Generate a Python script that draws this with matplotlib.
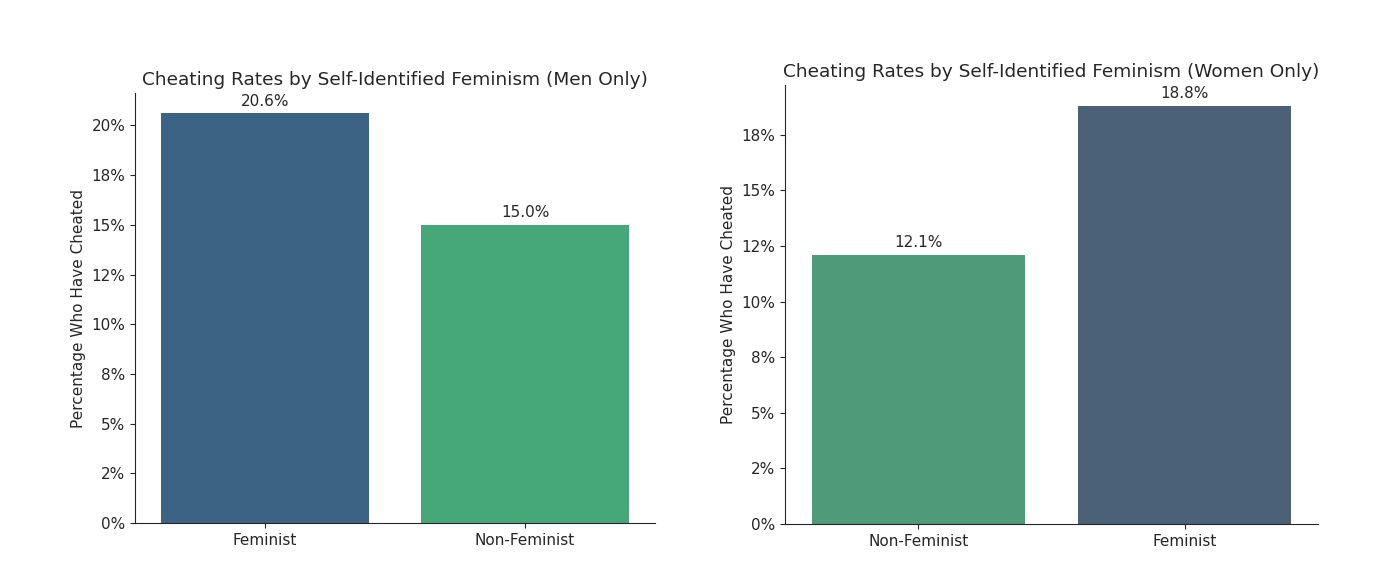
import numpy as np
import matplotlib
matplotlib.use('Agg')
import matplotlib.pyplot as plt
from matplotlib.ticker import MultipleLocator, FuncFormatter

# men
men_groups = ['Feminist', 'Non-Feminist']
men_rates = [20.6, 15.0]
men_colors = ['#3c6383', '#46a778']

# women
women_groups = ['Non-Feminist', 'Feminist']
women_rates = [12.1, 18.8]
women_colors = ['#4f9a78', '#4b6178']

dark = '#262626'
plt.rcParams['text.color'] = dark
plt.rcParams['axes.labelcolor'] = dark
plt.rcParams['xtick.color'] = dark
plt.rcParams['ytick.color'] = dark
plt.rcParams['axes.edgecolor'] = dark

fig = plt.figure(figsize=(13.74, 5.86), dpi=100)
ax1 = fig.add_axes([0.0983, 0.1075, 0.3785, 0.7338])
ax2 = fig.add_axes([0.5713, 0.1058, 0.3879, 0.7491])

def pct(v, pos):
    return '{:.0f}%'.format(v)

def draw(ax, groups, rates, colors, title):
    x = np.arange(len(groups))
    bars = ax.bar(x, rates, width=0.8, color=colors)
    for b, r in zip(bars, rates):
        ax.annotate('{:.1f}%'.format(r), (b.get_x() + b.get_width() / 2, r),
                    xytext=(0, 3.5), textcoords='offset points',
                    ha='center', va='bottom', fontsize=11)
    ax.set_xticks(x)
    ax.set_xticklabels(groups, fontsize=11)
    ax.tick_params(axis='y', labelsize=11)
    ax.set_xlim(-0.5, len(groups) - 0.5)
    ax.set_ylim(0, max(rates) * 1.05)
    ax.yaxis.set_major_locator(MultipleLocator(2.5))
    ax.yaxis.set_major_formatter(FuncFormatter(pct))
    ax.set_ylabel('Percentage Who Have Cheated', fontsize=11)
    ax.set_title(title, fontsize=13.3)
    ax.spines['top'].set_visible(False)
    ax.spines['right'].set_visible(False)

draw(ax1, men_groups, men_rates, men_colors,
     'Cheating Rates by Self-Identified Feminism (Men Only)')
draw(ax2, women_groups, women_rates, women_colors,
     'Cheating Rates by Self-Identified Feminism (Women Only)')

plt.savefig('out.png', dpi=100)
